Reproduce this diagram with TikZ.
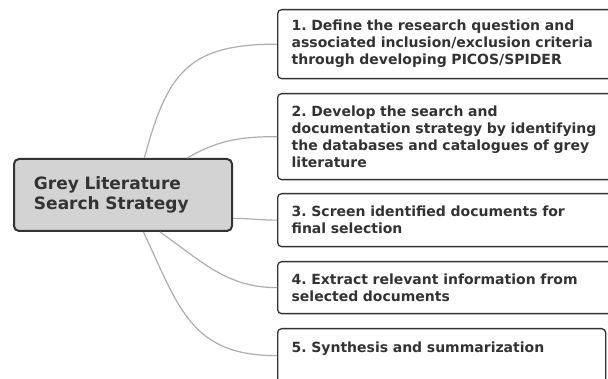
\documentclass[tikz,border=0pt]{standalone}
\usepackage{fontspec}
\setmainfont{DejaVu Sans}
\usetikzlibrary{positioning}
\definecolor{boxline}{HTML}{333333}
\definecolor{rootfill}{HTML}{D3D3D3}
\definecolor{linkgrey}{HTML}{ADADAD}
\frenchspacing

\tikzset{
  rootbox/.style={draw=boxline, line width=2pt, rounded corners=5pt, fill=rootfill,
    anchor=north west, text width=178pt, inner xsep=20pt, inner ysep=0pt,
    minimum height=72pt, align=left, text=boxline,
    font=\bfseries\fontsize{17}{20}\selectfont},
  stepbox/.style={draw=boxline, line width=1.3pt, rounded corners=4pt, fill=white,
    anchor=north west, text width=307pt, inner xsep=14pt, inner ysep=0pt,
    align=left, text=boxline, font=\bfseries\fontsize{14}{17}\selectfont},
  link/.style={draw=linkgrey, line width=1.2pt},
}

\begin{document}
\begin{tikzpicture}[x=1pt, y=-1pt]
    \clip (0,0) rectangle (608,379);
    \fill[white] (0,0) rectangle (608,379);
    % central topic
    \node[rootbox] (root) at (13,158) {Grey Literature\\Search Strategy};
    % steps
    \node[stepbox, minimum height=69pt] (s1) at (277,9)
        {1. Define the research question and\\associated inclusion/exclusion criteria\\through developing PICOS/SPIDER};
    \node[stepbox, minimum height=86pt] (s2) at (277,93)
        {2. Develop the search and\\documentation strategy by identifying\\the databases and catalogues of grey\\literature};
    \node[stepbox, minimum height=53pt] (s3) at (277,193)
        {3. Screen identified documents for\\final selection};
    \node[stepbox, minimum height=52pt] (s4) at (277,261)
        {4. Extract relevant information from\\selected documents};
    \node[stepbox, text width=300pt, text height=24pt, text depth=30pt] (s5) at (277,328)
        {5. Synthesis and summarization};
    % branches
    \draw[link] (root.60) to[out=75, in=180, looseness=1.3] (s1.west);
    \draw[link] (root.30) to[out=30, in=180] (s2.west);
    \draw[link] (root.-12) to[out=0, in=180] (s3.west);
    \draw[link] (root.-45) to[out=-35, in=180] (s4.west);
    \draw[link] (root.-61) to[out=-65, in=180, looseness=1.2] (s5.west);
\end{tikzpicture}
\end{document}
